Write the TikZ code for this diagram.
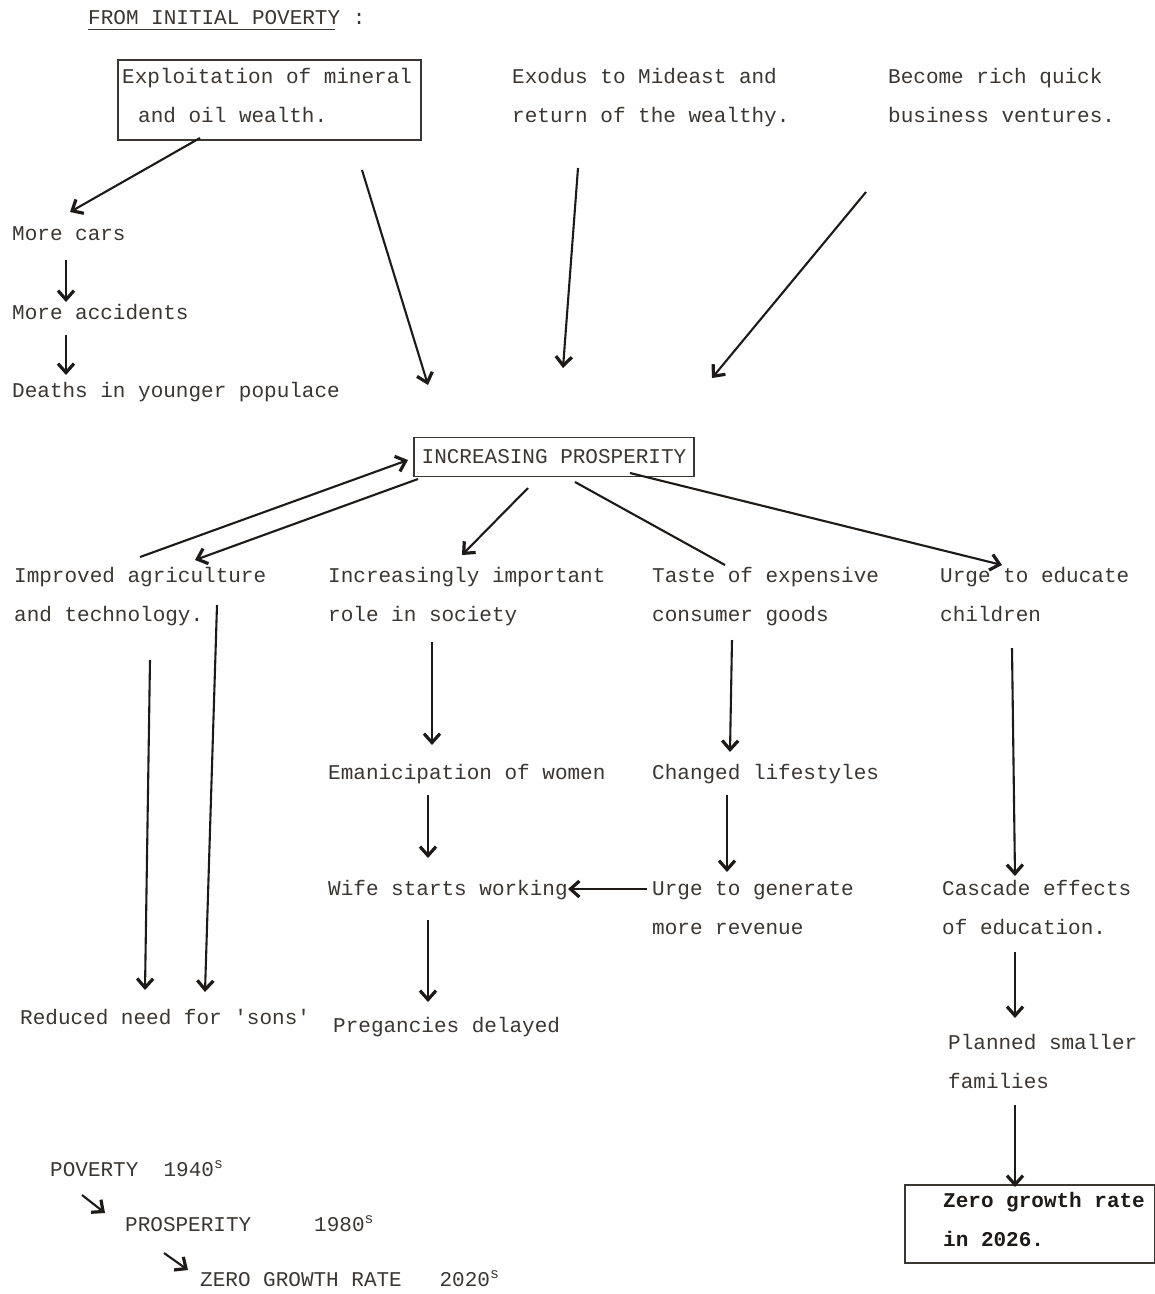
\documentclass[tikz,border=0pt]{standalone}
\usepackage{fontspec}
\setmonofont{Liberation Mono}
\usetikzlibrary{arrows.meta}
\definecolor{ink}{HTML}{3B3631}
\definecolor{ink2}{HTML}{1E1A17}
\begin{document}
\begin{tikzpicture}[x=1pt,y=-1pt,
 txt/.style={anchor=base west, inner sep=0pt, font=\ttfamily\fontsize{21}{39}\selectfont, text=ink, align=left},
 frame/.style={draw=ink, line width=1.3pt},
 arr/.style={draw=ink2, line width=2.1pt, -{Straight Barb[length=9pt,width=16pt,line width=3.2pt]}},
 plainline/.style={draw=ink2, line width=2.1pt}]
\useasboundingbox[fill=white] (0,0) rectangle (1155,1294);

% texts (multi-line nodes: base = last line)
\node[txt] (title) at (88,24) {FROM INITIAL POVERTY :};
\draw[ink, line width=0.8pt] ([yshift=-5pt]title.base west) -- ++(247,0);
\node[frame, minimum width=303pt, minimum height=80pt, inner sep=0pt] (explbox) at (269.5,100) {};
\node[txt] (expl) at (122,122) {Exploitation of mineral\\\hspace*{16pt}and oil wealth.};
\node[txt] (exodus) at (512,122) {Exodus to Mideast and\\return of the wealthy.};
\node[txt] (rich) at (888,122) {Become rich quick\\business ventures.};
\node[txt] (cars) at (12,240) {More cars};
\node[txt] (acc) at (12,319) {More accidents};
\node[txt] (deaths) at (12,397) {Deaths in younger populace};
\node[frame, minimum width=280pt, minimum height=39pt, inner sep=0pt,
      font=\ttfamily\fontsize{21}{39}\selectfont, text=ink] (prosp) at (554,457) {INCREASING PROSPERITY};
\node[txt] (agri) at (14,621) {Improved agriculture\\and technology.};
\node[txt] (role) at (328,621) {Increasingly important\\role in society};
\node[txt] (taste) at (652,621) {Taste of expensive\\consumer goods};
\node[txt] (educ) at (940,621) {Urge to educate\\children};
\node[txt] (emanc) at (328,779) {Emanicipation of women};
\node[txt] (life) at (652,779) {Changed lifestyles};
\node[txt] (wife) at (328,895) {Wife starts working};
\node[txt] (revenue) at (652,934) {Urge to generate\\more revenue};
\node[txt] (casc) at (942,934) {Cascade effects\\of education.};
\node[txt] (sons) at (20,1024) {Reduced need for 'sons'};
\node[txt] (preg) at (333,1032) {Pregancies delayed};
\node[txt] (plan) at (948,1088) {Planned smaller\\families};
\node[frame, minimum width=250pt, minimum height=78pt, inner sep=0pt] (zbox) at (1030,1224) {};
\node[txt, font=\ttfamily\bfseries\fontsize{21}{39}\selectfont, text=ink2] (zero) at (943,1246) {Zero growth rate\\in 2026.};
\node[txt] (pov) at (50,1176) {POVERTY\ \ 1940\textsuperscript{s}};
\node[txt] (pros) at (125,1231) {PROSPERITY\ \ \ \ \ 1980\textsuperscript{s}};
\node[txt] (zgr) at (200,1286) {ZERO GROWTH RATE\ \ \ 2020\textsuperscript{s}};

% connector end points
\coordinate (a1s) at (200,138);   \coordinate (a1e) at (70,212);
\coordinate (a2s) at (66,260);    \coordinate (a2e) at (66,302);
\coordinate (a3s) at (66,335);    \coordinate (a3e) at (66,375);
\coordinate (a4s) at (362,170);   \coordinate (a4e) at (428,385);
\coordinate (a5s) at (578,168);   \coordinate (a5e) at (563,368);
\coordinate (a6s) at (866,192);   \coordinate (a6e) at (712,378);
\coordinate (b1s) at (140,557);   \coordinate (b1e) at (408,460);
\coordinate (b2s) at (418,479);   \coordinate (b2e) at (195,560);
\coordinate (b3s) at (528,488);   \coordinate (b3e) at (462,555);
\coordinate (b4s) at (575,482);   \coordinate (b4e) at (725,565);
\coordinate (b5s) at (630,473);   \coordinate (b5e) at (1002,565);
\coordinate (c1s) at (150,660);   \coordinate (c1e) at (145,990);
\coordinate (c2s) at (217,605);   \coordinate (c2e) at (205,992);
\coordinate (d1s) at (432,642);   \coordinate (d1e) at (432,745);
\coordinate (d2s) at (428,795);   \coordinate (d2e) at (428,858);
\coordinate (d3s) at (428,920);   \coordinate (d3e) at (428,1002);
\coordinate (e1s) at (732,640);   \coordinate (e1e) at (730,752);
\coordinate (e2s) at (727,795);   \coordinate (e2e) at (727,872);
\coordinate (e3s) at (647,889);   \coordinate (e3e) at (568,889);
\coordinate (f1s) at (1012,648);  \coordinate (f1e) at (1015,876);
\coordinate (f2s) at (1015,952);  \coordinate (f2e) at (1015,1018);
\coordinate (f3s) at (1015,1105); \coordinate (f3e) at (1015,1187);
\coordinate (g1s) at (82,1195);   \coordinate (g1e) at (105,1213);
\coordinate (g2s) at (164,1253);  \coordinate (g2e) at (188,1270);

% connectors
\draw[arr] (a1s) -- (a1e);
\draw[arr] (a2s) -- (a2e);
\draw[arr] (a3s) -- (a3e);
\draw[arr] (a4s) -- (a4e);
\draw[arr] (a5s) -- (a5e);
\draw[arr] (a6s) -- (a6e);
\draw[arr] (b1s) -- (b1e);
\draw[arr] (b2s) -- (b2e);
\draw[arr] (b3s) -- (b3e);
\draw[plainline] (b4s) -- (b4e);
\draw[arr] (b5s) -- (b5e);
\draw[arr] (c1s) -- (c1e);
\draw[arr] (c2s) -- (c2e);
\draw[arr] (d1s) -- (d1e);
\draw[arr] (d2s) -- (d2e);
\draw[arr] (d3s) -- (d3e);
\draw[arr] (e1s) -- (e1e);
\draw[arr] (e2s) -- (e2e);
\draw[arr] (e3s) -- (e3e);
\draw[arr] (f1s) -- (f1e);
\draw[arr] (f2s) -- (f2e);
\draw[arr] (f3s) -- (f3e);
\draw[arr] (g1s) -- (g1e);
\draw[arr] (g2s) -- (g2e);
\end{tikzpicture}
\end{document}
